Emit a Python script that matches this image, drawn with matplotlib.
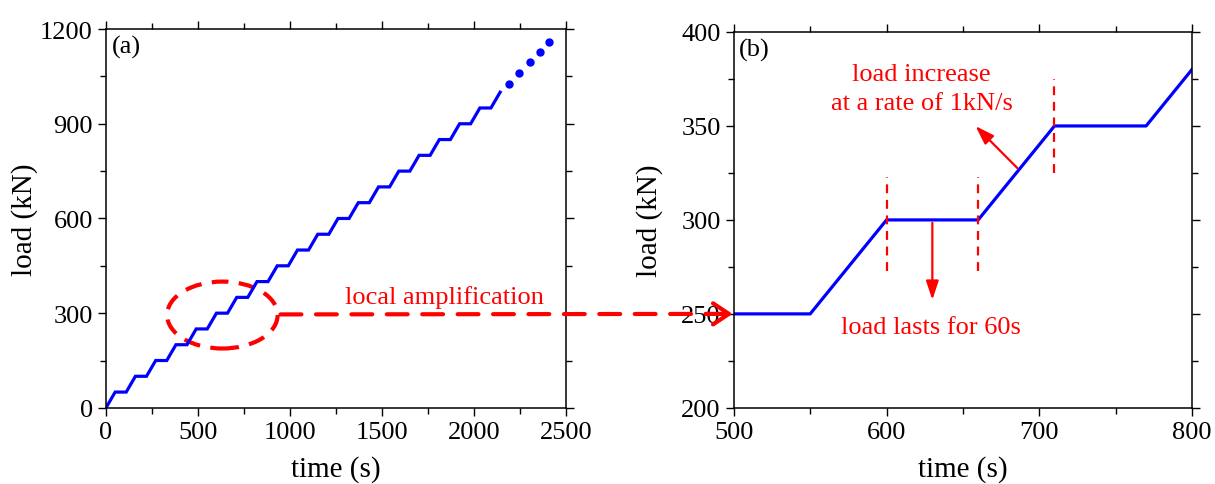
import numpy as np
import matplotlib
matplotlib.use("Agg")
import matplotlib.pyplot as plt
from matplotlib.patches import Ellipse, ConnectionPatch
from matplotlib.ticker import MultipleLocator

# (a) stepwise loading: ramp start/end times and level reached
ramp_start = [0, 110, 220, 330, 440, 550, 660, 770, 880, 990,
              1100, 1210, 1320, 1430, 1540, 1650, 1760, 1870, 1980, 2090]
ramp_end = [50, 160, 270, 380, 490, 600, 710, 820, 930, 1040,
            1150, 1260, 1370, 1480, 1590, 1700, 1810, 1920, 2030, 2140]
levels = [50, 100, 150, 200, 250, 300, 350, 400, 450, 500,
          550, 600, 650, 700, 750, 800, 850, 900, 950, 1000]
# continuation dots
dots_t = [2190, 2245, 2300, 2355, 2405]
dots_load = [1025, 1060, 1095, 1127, 1160]

# (b) zoomed part
time_b = [500, 550, 600, 660, 710, 770, 800]
load_b = [250, 250, 300, 300, 350, 350, 380]

plt.rcParams['font.family'] = ['Liberation Serif', 'DejaVu Serif']
plt.rcParams['font.size'] = 19

fig = plt.figure(figsize=(12.15, 4.85), dpi=100)
ax1 = fig.add_axes([0.0872, 0.157, 0.379, 0.781])
ax2 = fig.add_axes([0.604, 0.157, 0.377, 0.775])

# build staircase path
xs, ys = [0], [0]
prev = 0
for s, e, lv in zip(ramp_start, ramp_end, levels):
    xs += [s, e]
    ys += [prev, lv]
    prev = lv

blue = '#0000ff'
red = '#ff0000'
ax1.plot(xs, ys, color=blue, lw=2.3, solid_joinstyle='miter')
ax1.plot(dots_t, dots_load, 'o', color=blue, ms=5)
ax2.plot(time_b, load_b, color=blue, lw=2.3)

for ax in (ax1, ax2):
    ax.tick_params(which='both', direction='out', top=True, right=True,
                   labelsize=19, width=1)
    ax.tick_params(which='major', length=6)
    ax.tick_params(which='minor', length=4)
    for sp in ax.spines.values():
        sp.set_linewidth(1.1)
    ax.set_xlabel('time (s)', fontsize=21, labelpad=9)
    ax.set_ylabel('load (kN)', fontsize=21)

ax1.yaxis.set_label_coords(-0.148, 0.5)
ax2.yaxis.set_label_coords(-0.154, 0.5)

ax1.set_xlim(0, 2500)
ax1.set_ylim(0, 1200)
ax1.xaxis.set_major_locator(MultipleLocator(500))
ax1.xaxis.set_minor_locator(MultipleLocator(250))
ax1.yaxis.set_major_locator(MultipleLocator(300))
ax1.yaxis.set_minor_locator(MultipleLocator(150))
ax1.text(0.012, 0.985, '(a)', transform=ax1.transAxes, va='top', ha='left', fontsize=19)

ax2.set_xlim(500, 800)
ax2.set_ylim(200, 400)
ax2.xaxis.set_major_locator(MultipleLocator(100))
ax2.xaxis.set_minor_locator(MultipleLocator(50))
ax2.yaxis.set_major_locator(MultipleLocator(50))
ax2.yaxis.set_minor_locator(MultipleLocator(25))
ax2.text(0.012, 0.985, '(b)', transform=ax2.transAxes, va='top', ha='left', fontsize=19)

# ellipse marking the zoomed region
ell = Ellipse((632, 294), 600, 212, fill=False, ec=red, lw=3,
              ls=(0, (4, 2.5)), clip_on=False)
ax1.add_patch(ell)
ax1.text(1835, 353, 'local amplification', color=red, ha='center', va='center',
         fontsize=19, clip_on=False)

# dashed connector to panel (b)
con = ConnectionPatch(xyA=(948, 296), coordsA=ax1.transData,
                      xyB=(497, 250), coordsB=ax2.transData,
                      color=red, lw=3, ls=(0, (5, 3.5)), arrowstyle='-')
fig.add_artist(con)
ax2.annotate('', xy=(501, 250), xytext=(490, 250), annotation_clip=False,
             arrowprops=dict(arrowstyle='->,head_length=0.6,head_width=0.4',
                             color=red, lw=3))

# vertical marker lines in (b)
for xv, y0, y1 in [(600, 273, 323), (660, 273, 323), (710, 325, 375)]:
    ax2.plot([xv, xv], [y0, y1], color=red, lw=1.6, ls=(0, (4, 3)))

ax2.annotate('', xy=(630, 256), xytext=(630, 300),
             arrowprops=dict(arrowstyle='-|>,head_length=0.6,head_width=0.2',
                             color=red, lw=1.6))
ax2.text(629, 243, 'load lasts for 60s', color=red, ha='center', va='center', fontsize=19)

ax2.annotate('', xy=(657, 351), xytext=(687, 326.5),
             arrowprops=dict(arrowstyle='-|>,head_length=0.6,head_width=0.2',
                             color=red, lw=1.6))
ax2.text(623, 370, 'load increase\nat a rate of 1kN/s', color=red, ha='center',
         va='center', fontsize=19, linespacing=1.4)

fig.savefig('out.png', dpi=100)
